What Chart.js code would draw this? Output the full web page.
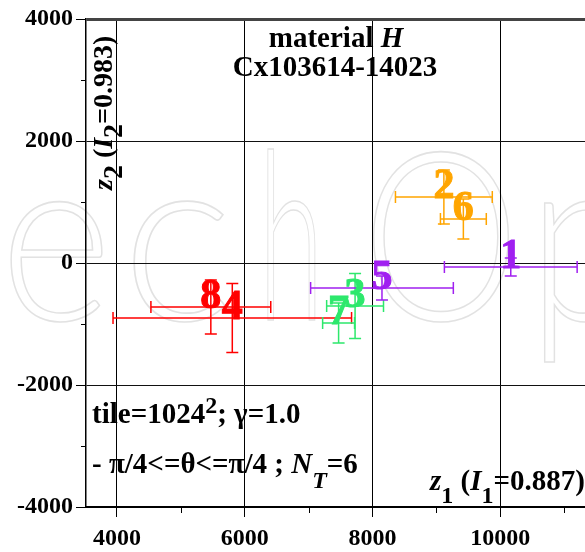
<!DOCTYPE html>
<html>
<head>
<meta charset="utf-8">
<script src="https://cdn.jsdelivr.net/npm/chart.js@4.4.1/dist/chart.umd.min.js"></script>
<style>
html, body { margin: 0; padding: 0; background: #fff; }
#wrap { width: 585px; height: 552px; }
</style>
</head>
<body>
<div id="wrap"><canvas id="zChart" width="585" height="552"></canvas></div>
<script>
// values
var pointLabels = ['1', '2', '3', '4', '5', '6', '7', '8'];
var z1Values = [10164, 9117, 7727, 5805, 8148, 9422, 7469, 5469];
var z2Values = [-66, 1082, -705, -902, -410, 721, -984, -721];
var z1Errors = [1039, 758, 445, 1867, 1117, 359, 250, 938];
var z2Errors = [148, 443, 533, 566, 197, 328, 328, 443];
var pointColors = ['#a020f0', '#ffa500', '#2de86c', '#ff0000', '#a020f0', '#ffa500', '#2de86c', '#ff0000'];
var xTicks = [4000, 6000, 8000, 10000];
var xMinor = [5000, 7000, 9000, 11000];
var yTicks = [-4000, -2000, 0, 2000, 4000];
var yMinor = [-3000, -1000, 1000, 3000];

var serif = '"Liberation Serif", "Times New Roman", serif';

function drawRuns(ctx, runs, x, y) {
    runs.forEach(function (r) {
        ctx.font = r.font;
        ctx.fillText(r.text, x, y + (r.dy || 0));
        x += ctx.measureText(r.text).width;
    });
}
function runsWidth(ctx, runs) {
    var w = 0;
    runs.forEach(function (r) {
        ctx.font = r.font;
        w += ctx.measureText(r.text).width;
    });
    return w;
}

// faint watermark behind the plot
var watermark = {
    id: 'watermark',
    beforeDraw: function (chart) {
        var ctx = chart.ctx;
        ctx.save();
        ctx.fillStyle = '#fff';
        ctx.fillRect(0, 0, chart.width, chart.height);
        ctx.font = '300 236px Lato';
        ctx.strokeStyle = '#e2e2e2';
        ctx.lineWidth = 1.6;
        [['e', 0, 112], ['c', 122, 111], ['h', 258, 66], ['O', 362, 158], ['p', 528, 112]].forEach(function (l) {
            ctx.strokeText(l[0], l[1], 320, l[2]);
        });
        ctx.restore();
    }
};

var errorBars = {
    id: 'errorBars',
    afterDatasetsDraw: function (chart) {
        var ctx = chart.ctx;
        var xs = chart.scales.x, ys = chart.scales.y;
        ctx.save();
        ctx.lineWidth = 1.5;
        for (var i = 0; i < z1Values.length; i++) {
            var px = xs.getPixelForValue(z1Values[i]);
            var py = ys.getPixelForValue(z2Values[i]);
            var x0 = xs.getPixelForValue(z1Values[i] - z1Errors[i]);
            var x1 = xs.getPixelForValue(z1Values[i] + z1Errors[i]);
            var y0 = ys.getPixelForValue(z2Values[i] - z2Errors[i]);
            var y1 = ys.getPixelForValue(z2Values[i] + z2Errors[i]);
            ctx.strokeStyle = pointColors[i];
            ctx.beginPath();
            ctx.moveTo(x0, py); ctx.lineTo(x1, py);
            ctx.moveTo(x0, py - 6); ctx.lineTo(x0, py + 6);
            ctx.moveTo(x1, py - 6); ctx.lineTo(x1, py + 6);
            ctx.moveTo(px, y0); ctx.lineTo(px, y1);
            ctx.moveTo(px - 6, y0); ctx.lineTo(px + 6, y0);
            ctx.moveTo(px - 6, y1); ctx.lineTo(px + 6, y1);
            ctx.stroke();
        }
        ctx.font = 'bold 42px ' + serif;
        ctx.textAlign = 'center';
        ctx.textBaseline = 'alphabetic';
        ctx.lineWidth = 1;
        for (var j = 0; j < z1Values.length; j++) {
            var lx = xs.getPixelForValue(z1Values[j]);
            var ly = ys.getPixelForValue(z2Values[j]) + 1;
            ctx.fillStyle = pointColors[j];
            ctx.strokeStyle = pointColors[j];
            ctx.fillText(pointLabels[j], lx, ly);
            ctx.strokeText(pointLabels[j], lx, ly);
        }
        ctx.restore();
    }
};

var annotations = {
    id: 'annotations',
    afterDraw: function (chart) {
        var ctx = chart.ctx;
        var xs = chart.scales.x, ys = chart.scales.y;
        var area = chart.chartArea;
        ctx.save();
        ctx.fillStyle = '#000';
        ctx.textBaseline = 'alphabetic';
        ctx.textAlign = 'left';

        // minor ticks
        ctx.strokeStyle = '#000';
        ctx.lineWidth = 1;
        ctx.beginPath();
        yMinor.forEach(function (v) {
            var y = Math.round(ys.getPixelForValue(v)) + 0.5;
            ctx.moveTo(area.left - 5, y); ctx.lineTo(area.left, y);
        });
        xMinor.forEach(function (v) {
            var x = Math.round(xs.getPixelForValue(v)) + 0.5;
            ctx.moveTo(x, area.bottom); ctx.lineTo(x, area.bottom + 6);
        });
        ctx.stroke();

        // title
        var b = 'bold 29px ' + serif, bi = 'italic bold 29px ' + serif;
        var sub = 'bold 24px ' + serif, subi = 'italic bold 24px ' + serif;
        var t1 = [{ text: 'material ', font: b }, { text: 'H', font: bi }];
        drawRuns(ctx, t1, 336 - runsWidth(ctx, t1) / 2, 47);
        var t2 = [{ text: 'Cx103614-14023', font: b }];
        drawRuns(ctx, t2, 335 - runsWidth(ctx, t2) / 2, 76);

        // y axis title, rotated
        var yb = 'bold 28px ' + serif, ybi = 'italic bold 28px ' + serif;
        ctx.save();
        ctx.translate(112, 190);
        ctx.rotate(-Math.PI / 2);
        drawRuns(ctx, [
            { text: 'z', font: ybi },
            { text: '2', font: yb, dy: 10 },
            { text: ' (', font: yb },
            { text: 'I', font: ybi },
            { text: '2', font: yb, dy: 10 },
            { text: '=0.983)', font: yb }
        ], 0, 0);
        ctx.restore();

        // notes
        drawRuns(ctx, [
            { text: 'tile=1024', font: b },
            { text: '2', font: sub, dy: -10 },
            { text: '; \u03b3=1.0', font: b }
        ], 92, 423);
        drawRuns(ctx, [
            { text: '- \u03c0/4<=\u03b8<=\u03c0/4 ; ', font: b },
            { text: 'N', font: bi },
            { text: 'T', font: subi, dy: 15 },
            { text: '=6', font: b }
        ], 92, 473);

        drawRuns(ctx, [
            { text: 'z', font: bi },
            { text: '1', font: sub, dy: 13 },
            { text: ' (', font: b },
            { text: 'I', font: bi },
            { text: '1', font: sub, dy: 13 },
            { text: '=0.887)', font: b }
        ], 430, 490);
        ctx.restore();
    }
};

var tickFont = { family: serif, size: 24, weight: 'bold' };

new Chart(document.getElementById('zChart').getContext('2d'), {
    type: 'scatter',
    data: {
        datasets: [{
            label: 'z',
            data: z1Values.map(function (v, i) { return { x: v, y: z2Values[i] }; }),
            pointRadius: 0,
            showLine: false
        }]
    },
    options: {
        responsive: false,
        animation: false,
        devicePixelRatio: 1,
        layout: { padding: { top: 19, right: 0, bottom: 0, left: 0 } },
        plugins: {
            legend: { display: false },
            tooltip: { enabled: false }
        },
        scales: {
            x: {
                type: 'linear',
                min: 3515,
                max: 11326,
                afterBuildTicks: function (scale) {
                    scale.ticks = xTicks.map(function (v) { return { value: v }; });
                },
                afterFit: function (scale) { scale.height = 45; },
                grid: { color: '#000', lineWidth: 1, tickLength: 10, tickColor: '#000' },
                border: { display: true, color: '#000', width: 2 },
                ticks: {
                    font: tickFont, color: '#000', padding: 7, maxRotation: 0, autoSkip: false,
                    callback: function (v) { return String(v); }
                }
            },
            y: {
                type: 'linear',
                min: -4000,
                max: 4000,
                afterBuildTicks: function (scale) {
                    scale.ticks = yTicks.map(function (v) { return { value: v }; });
                },
                afterFit: function (scale) { scale.width = 86; },
                grid: {
                    color: function (c) { return c.tick && c.tick.value === 4000 ? '#444' : '#111'; },
                    lineWidth: function (c) { return c.tick && c.tick.value === 4000 ? 3 : 1; },
                    tickLength: 10, tickColor: '#000', tickWidth: 1
                },
                border: { display: true, color: '#000', width: 1.5 },
                ticks: {
                    font: tickFont, color: '#000', padding: 3, autoSkip: false,
                    callback: function (v) { return String(v); }
                }
            }
        }
    },
    plugins: [watermark, errorBars, annotations]
});
</script>
</body>
</html>
